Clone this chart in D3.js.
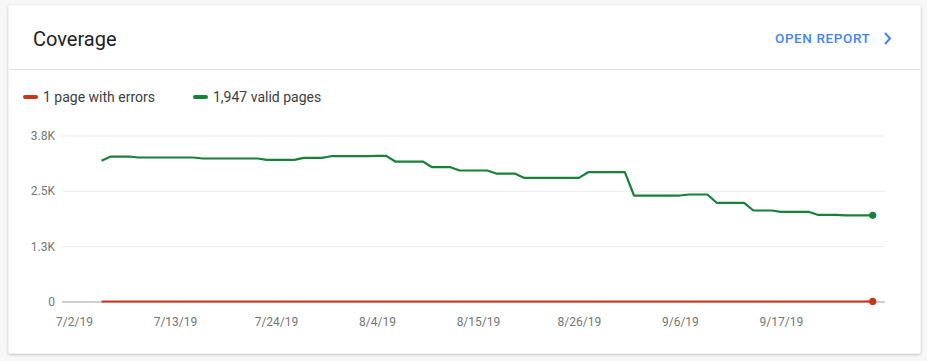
<!DOCTYPE html>
<html>
<head>
<meta charset="utf-8">
<script src="https://cdn.jsdelivr.net/npm/d3@7"></script>
<style>
  html, body { margin: 0; padding: 0; background: #f7f7f7; }
  body { width: 927px; height: 361px; overflow: hidden; font-family: Roboto, "Noto Sans", sans-serif; }
</style>
</head>
<body>
<svg id="chart" width="927" height="361"></svg>
<script>
// ---- Data ----
const title = "Coverage";
const actionLabel = "OPEN REPORT";
const seriesNames = ["1 page with errors", "1,947 valid pages"];
const startDate = "2019-07-05";
const validPages = [
  3178, 3275, 3275, 3275, 3253, 3253, 3253, 3253, 3253, 3253,
  3253, 3230, 3230, 3230, 3230, 3230, 3230, 3230, 3200, 3200,
  3200, 3200, 3246, 3246, 3246, 3282, 3282, 3282, 3282, 3285,
  3288, 3291, 3162, 3162, 3162, 3162, 3034, 3034, 3034, 2959,
  2959, 2959, 2959, 2891, 2891, 2891, 2794, 2794, 2794, 2794,
  2794, 2794, 2794, 2921, 2921, 2921, 2921, 2921, 2394, 2394,
  2394, 2394, 2394, 2394, 2417, 2417, 2417, 2230, 2230, 2230,
  2230, 2056, 2056, 2056, 2026, 2026, 2026, 2026, 1958, 1958,
  1958, 1947, 1947, 1947, 1947
];
const errorPages = [
  0, 0, 0, 0, 0, 0, 0, 0, 0, 0,
  0, 0, 0, 0, 0, 0, 0, 0, 0, 0,
  0, 0, 0, 0, 0, 0, 0, 0, 0, 0,
  0, 0, 0, 0, 0, 0, 0, 0, 0, 0,
  0, 0, 0, 0, 0, 0, 0, 0, 0, 0,
  0, 0, 0, 0, 0, 0, 0, 0, 0, 0,
  0, 0, 0, 0, 0, 0, 0, 0, 0, 0,
  0, 0, 0, 0, 0, 0, 0, 0, 0, 0,
  0, 0, 0, 0, 1
];
const yTicks = [0, 1250, 2500, 3750];
const yTickLabels = ["0", "1.3K", "2.5K", "3.8K"];
const xTickDates = ["2019-07-02", "2019-07-13", "2019-07-24", "2019-08-04", "2019-08-15", "2019-08-26", "2019-09-06", "2019-09-17"];
const xTickLabels = ["7/2/19", "7/13/19", "7/24/19", "8/4/19", "8/15/19", "8/26/19", "9/6/19", "9/17/19"];

// ---- Layout / style ----
const colors = { errors: "#c8361b", valid: "#188038" };
const svg = d3.select("#chart");
const defs = svg.append("defs");
const f = defs.append("filter").attr("id", "shadow").attr("x", "-5%").attr("y", "-5%").attr("width", "110%").attr("height", "115%");
f.append("feDropShadow").attr("dx", 0).attr("dy", 1).attr("stdDeviation", 1.5).attr("flood-color", "#000").attr("flood-opacity", 0.28);

svg.append("rect").attr("x", 8.5).attr("y", 5.5).attr("width", 912).attr("height", 348)
  .attr("rx", 2).attr("fill", "#fff").attr("filter", "url(#shadow)");

svg.append("text").attr("x", 33).attr("y", 46).text(title)
  .attr("font-size", 20).attr("fill", "#202124").attr("font-family", "Roboto");

svg.append("text").attr("x", 775).attr("y", 43).text(actionLabel)
  .attr("font-size", 13.5).attr("font-weight", 500).attr("letter-spacing", 0.6)
  .attr("fill", "#4285f4").attr("font-family", "Roboto");
svg.append("path").attr("d", "M885,33 L890,38.5 L885,44").attr("fill", "none")
  .attr("stroke", "#4285f4").attr("stroke-width", 2);

svg.append("line").attr("x1", 9).attr("x2", 920).attr("y1", 69.5).attr("y2", 69.5)
  .attr("stroke", "#e0e0e0").attr("stroke-width", 1);

// Legend
const legendItems = [
  { name: seriesNames[0], color: colors.errors, x: 25 },
  { name: seriesNames[1], color: colors.valid, x: 195 }
];
const lg = svg.append("g").selectAll("g").data(legendItems).join("g")
  .attr("transform", d => `translate(${d.x},97)`);
lg.append("line").attr("x1", 0).attr("x2", 11).attr("y1", 0).attr("y2", 0)
  .attr("stroke", d => d.color).attr("stroke-width", 4).attr("stroke-linecap", "round");
lg.append("text").attr("x", 18).attr("y", 5).text(d => d.name)
  .attr("font-size", 14).attr("fill", "#3c4043").attr("font-family", "Roboto");

// Scales
const parse = d3.utcParse("%Y-%m-%d");
const t0 = parse(startDate);
const dates = validPages.map((_, i) => d3.utcDay.offset(t0, i));
const x0 = parse("2019-07-02");
const x = d3.scaleUtc().domain([x0, dates[dates.length - 1]]).range([74, 872.7]);
const y = d3.scaleLinear().domain([0, 3750]).range([301.5, 135.5]);
const gridLeft = 62, gridRight = 885;

// Grid + y axis
const yAxis = d3.axisLeft(y).tickValues(yTicks).tickFormat((d, i) => yTickLabels[i])
  .tickSize(-(gridRight - gridLeft)).tickPadding(7);
const gy = svg.append("g").attr("transform", `translate(${gridLeft},0)`).call(yAxis);
gy.select(".domain").remove();
gy.selectAll(".tick line").attr("stroke", d => d === 0 ? "#9e9e9e" : "#ececec");
gy.selectAll(".tick text").attr("font-size", 12).attr("fill", "#757575").attr("font-family", "Roboto");

// x axis
const xAxis = d3.axisBottom(x).tickValues(xTickDates.map(parse)).tickFormat((d, i) => xTickLabels[i])
  .tickSize(0).tickPadding(16);
const gx = svg.append("g").attr("transform", `translate(0,${y(0)})`).call(xAxis);
gx.select(".domain").remove();
gx.selectAll(".tick text").attr("font-size", 12).attr("fill", "#757575").attr("font-family", "Roboto");

// Lines
const line = d3.line().x((d, i) => x(dates[i])).y(d => y(d));
svg.append("path").datum(validPages).attr("d", line).attr("fill", "none")
  .attr("stroke", colors.valid).attr("stroke-width", 2.2).attr("stroke-linejoin", "round");
svg.append("path").datum(errorPages).attr("d", line).attr("fill", "none")
  .attr("stroke", colors.errors).attr("stroke-width", 2.2);

const last = dates.length - 1;
svg.append("circle").attr("cx", x(dates[last])).attr("cy", y(validPages[last])).attr("r", 3.6).attr("fill", colors.valid);
svg.append("circle").attr("cx", x(dates[last])).attr("cy", y(errorPages[last])).attr("r", 3.6).attr("fill", colors.errors);
</script>
</body>
</html>
